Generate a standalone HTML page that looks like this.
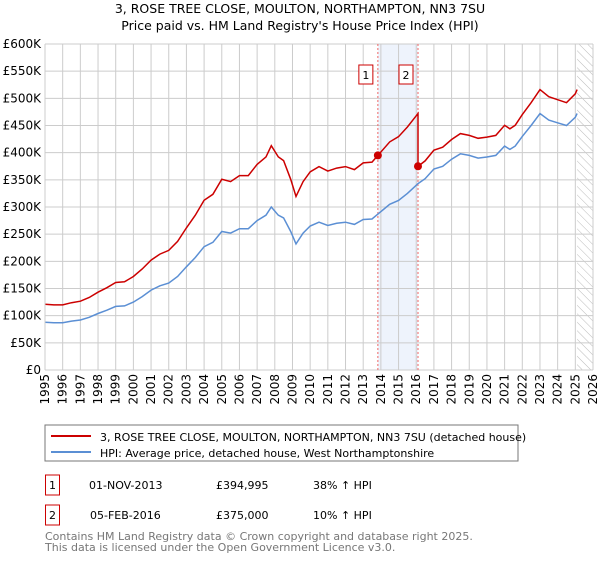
<!DOCTYPE html>
<html><head><meta charset="utf-8"><style>
body{margin:0;background:#fff;font-family:"Liberation Sans","DejaVu Sans",sans-serif;}
svg text{font-family:"DejaVu Sans","Liberation Sans",sans-serif;}
</style></head><body>
<svg width="600" height="560" viewBox="0 0 600 560">
<defs><pattern id="hatch" width="6" height="6" patternUnits="userSpaceOnUse" patternTransform="rotate(-45)"><line x1="0" y1="0" x2="0" y2="6" stroke="#bbb" stroke-width="1"/></pattern></defs>
<text x="300" y="13" text-anchor="middle" font-size="12.5">3, ROSE TREE CLOSE, MOULTON, NORTHAMPTON, NN3 7SU</text>
<text x="300" y="30" text-anchor="middle" font-size="12.5">Price paid vs. HM Land Registry's House Price Index (HPI)</text>
<g id="grid"></g><g id="marks"></g><g id="axes"></g>
<rect x="45" y="425" width="473" height="36" fill="#fff" stroke="#777"/>
<line x1="51" y1="436" x2="91" y2="436" stroke="#cc0000" stroke-width="2"/>
<text x="100" y="441" font-size="11">3, ROSE TREE CLOSE, MOULTON, NORTHAMPTON, NN3 7SU (detached house)</text>
<line x1="51" y1="452" x2="91" y2="452" stroke="#5b8fd4" stroke-width="2"/>
<text x="100" y="457" font-size="11">HPI: Average price, detached house, West Northamptonshire</text>
<g font-size="11">
<rect x="45.5" y="475" width="14" height="20" fill="none" stroke="#cc0000"/><text x="52.5" y="489" text-anchor="middle">1</text>
<text x="89" y="489">01-NOV-2013</text><text x="216" y="489">£394,995</text><text x="313" y="489">38% ↑ HPI</text>
<rect x="45.5" y="505" width="14" height="20" fill="none" stroke="#cc0000"/><text x="52.5" y="519" text-anchor="middle">2</text>
<text x="90" y="519">05-FEB-2016</text><text x="216" y="519">£375,000</text><text x="313" y="519">10% ↑ HPI</text>
</g>
<text x="45" y="540" font-size="11" fill="#777">Contains HM Land Registry data © Crown copyright and database right 2025.</text>
<text x="45" y="551" font-size="11" fill="#777">This data is licensed under the Open Government Licence v3.0.</text>
</svg>
<script>
const hpiYears=[1995,1995.5,1996,1996.5,1997,1997.5,1998,1998.5,1999,1999.5,2000,2000.5,2001,2001.5,2002,2002.5,2003,2003.5,2004,2004.5,2005,2005.5,2006,2006.5,2007,2007.5,2007.8,2008.2,2008.5,2008.9,2009.2,2009.6,2010,2010.5,2011,2011.5,2012,2012.5,2013,2013.5,2013.83,2014.5,2015,2015.5,2016,2016.1,2016.5,2017,2017.5,2018,2018.5,2019,2019.5,2020,2020.5,2021,2021.3,2021.6,2022,2022.5,2023,2023.5,2024,2024.5,2025,2025.1];
const hpiValues=[88,87,87,90,92,97,104,110,117,118,125,135,147,155,160,172,190,207,227,235,255,252,260,260,275,285,300,285,280,255,232,252,265,272,266,270,272,268,277,278,287,305,312,325,340,343,352,370,375,388,398,395,390,392,395,412,406,412,430,450,472,460,455,450,465,472];
const saleYears=[2013.83,2016.1];
const salePrices=[394995,375000];
const yTicks=[0,50,100,150,200,250,300,350,400,450,500,550,600];
const xYears=[1995,1996,1997,1998,1999,2000,2001,2002,2003,2004,2005,2006,2007,2008,2009,2010,2011,2012,2013,2014,2015,2016,2017,2018,2019,2020,2021,2022,2023,2024,2025,2026];
const X0=45,X1=593,Y0=370,Y1=44;
const sx=y=>X0+(y-1995)/(2026-1995)*(X1-X0);
const sy=v=>Y0-v/600*(Y0-Y1);
const NS='http://www.w3.org/2000/svg';
function mk(p,t,a){const e=document.createElementNS(NS,t);for(const k in a)e.setAttribute(k,a[k]);p.appendChild(e);return e;}
const grid=document.getElementById('grid'),marks=document.getElementById('marks'),axes=document.getElementById('axes');
function hpiAt(t){for(let i=0;i<hpiYears.length-1;i++){if(t>=hpiYears[i]&&t<=hpiYears[i+1]){const f=(t-hpiYears[i])/(hpiYears[i+1]-hpiYears[i]);return hpiValues[i]+f*(hpiValues[i+1]-hpiValues[i]);}}return hpiValues[hpiValues.length-1];}
// shaded band and hatch
const band=mk(grid,'rect',{x:sx(saleYears[0]),y:Y1,width:sx(saleYears[1])-sx(saleYears[0]),height:Y0-Y1,fill:'#eef3fc'});

const hz=mk(grid,'rect',{x:sx(2025.1),y:Y1,width:X1-sx(2025.1),height:Y0-Y1,fill:'url(#hatch)'});

xYears.forEach(y=>{const l=mk(grid,'line',{x1:sx(y),x2:sx(y),y1:Y1,y2:Y0,stroke:'#ccc'});

const t=mk(axes,'text',{x:0,y:0,'font-size':'12',transform:`translate(${sx(y)+4},${Y0+4}) rotate(-90)`,'text-anchor':'end'});t.textContent=y;
});
yTicks.forEach(v=>{const l=mk(grid,'line',{x1:X0,x2:X1,y1:sy(v),y2:sy(v),stroke:'#ccc'});

const t=mk(axes,'text',{x:X0-4,y:sy(v)+4,'font-size':'12','text-anchor':'end'});t.textContent=v===0?'£0':'£'+v+'K';
});
// sale vlines and labels
saleYears.forEach((s,i)=>{const l=mk(marks,'line',{x1:sx(s),x2:sx(s),y1:Y1,y2:Y0,stroke:'#e66','stroke-dasharray':'2,2'});

const r=mk(marks,'rect',{x:sx(s)-19,y:65,width:14,height:19,fill:'#fff',stroke:'#cc0000'});

const t=mk(marks,'text',{x:sx(s)-12,y:79,'font-size':'11','text-anchor':'middle'});t.textContent=i+1;
});
// HPI line
const hp=mk(marks,'path',{d:hpiYears.map((y,i)=>(i?'L':'M')+sx(y).toFixed(1)+','+sy(hpiValues[i]).toFixed(1)).join(''),fill:'none',stroke:'#5b8fd4','stroke-width':1.5});

// property line
const r1=salePrices[0]/1000/hpiAt(saleYears[0]),r2=salePrices[1]/1000/hpiAt(saleYears[1]);
let d='';hpiYears.forEach((y,i)=>{if(y<saleYears[1]){d+=(d?'L':'M')+sx(y).toFixed(1)+','+sy(hpiValues[i]*r1).toFixed(1);}});
d+='L'+sx(saleYears[1]).toFixed(1)+','+sy(hpiAt(saleYears[1])*r1).toFixed(1);
d+='L'+sx(saleYears[1]).toFixed(1)+','+sy(salePrices[1]/1000).toFixed(1);
hpiYears.forEach((y,i)=>{if(y>saleYears[1])d+='L'+sx(y).toFixed(1)+','+sy(hpiValues[i]*r2).toFixed(1);});
const pp=mk(marks,'path',{d:d,fill:'none',stroke:'#cc0000','stroke-width':1.5});

saleYears.forEach((s,i)=>{const c=mk(marks,'circle',{cx:sx(s),cy:sy(salePrices[i]/1000),r:4,fill:'#cc0000'});
});
const ax=mk(axes,'line',{x1:X0,x2:X0,y1:Y1,y2:Y0,stroke:'#ccc'});

</script>
</body></html>
